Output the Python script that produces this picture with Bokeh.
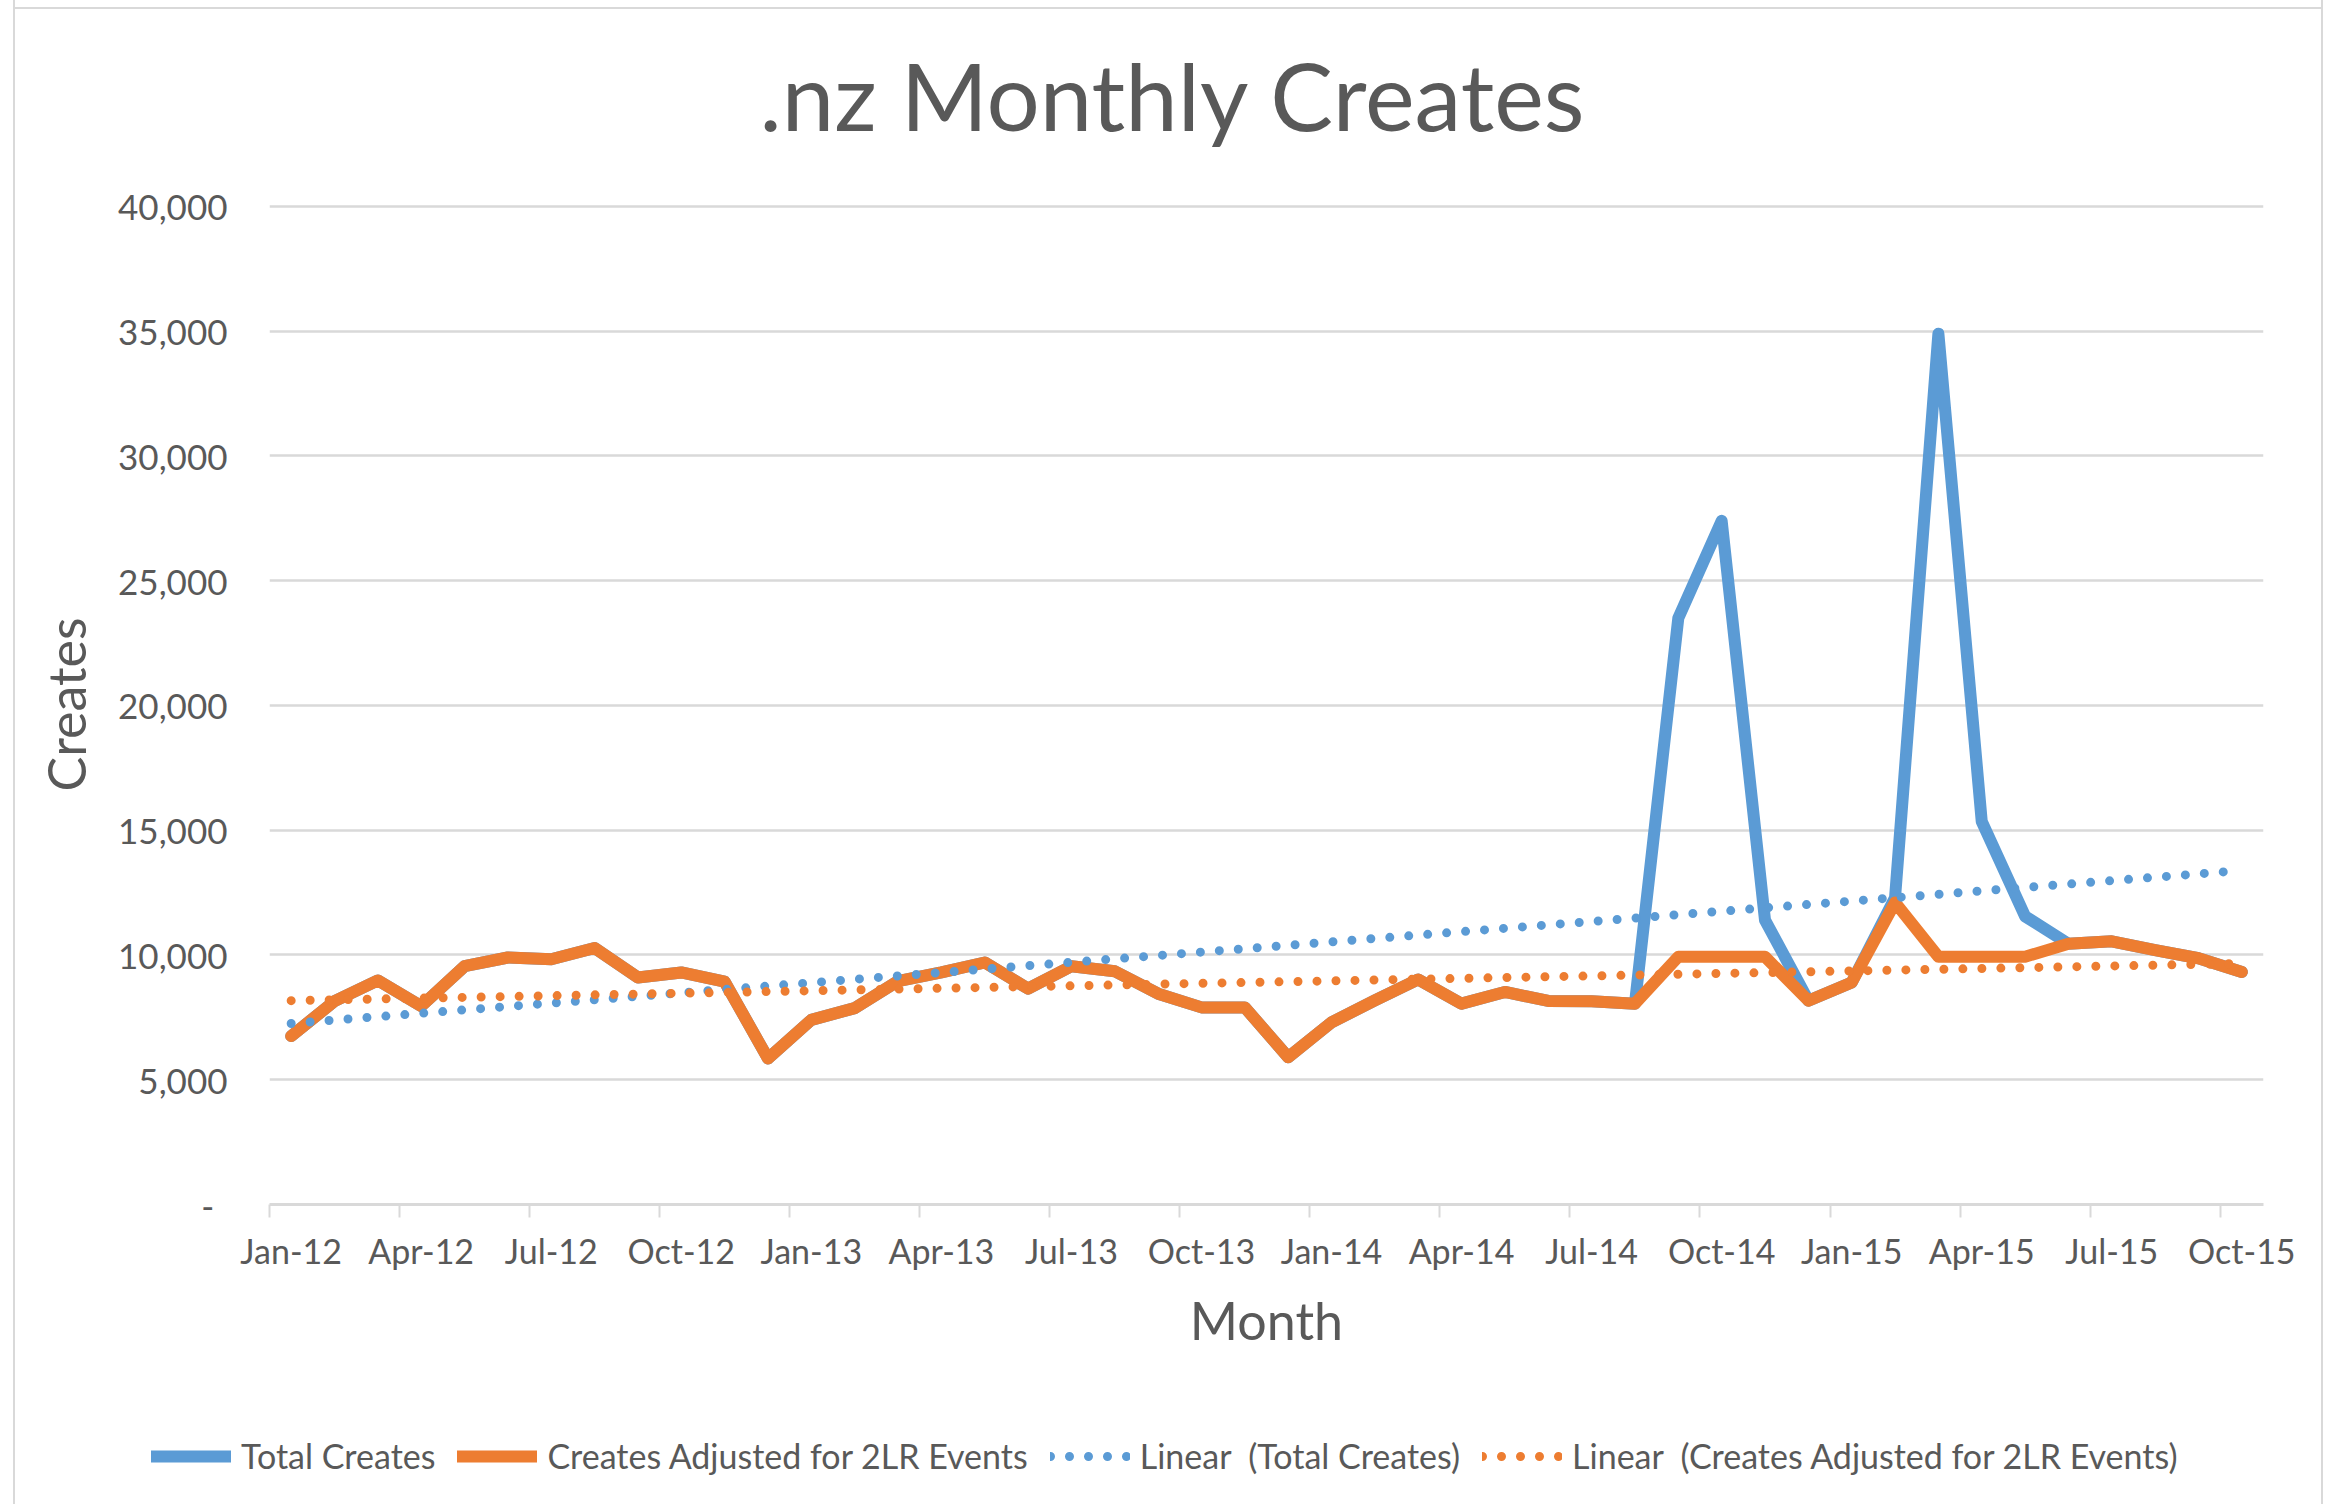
import numpy as np
from bokeh.plotting import figure
from bokeh.models import (FixedTicker, Legend, LegendItem, Range1d,
                          NumeralTickFormatter)
from bokeh.layouts import column
from bokeh.embed import file_html
from bokeh.resources import INLINE

# ---------------- data ----------------
months = ["Jan-12", "Feb-12", "Mar-12", "Apr-12", "May-12", "Jun-12", "Jul-12", "Aug-12",
          "Sep-12", "Oct-12", "Nov-12", "Dec-12", "Jan-13", "Feb-13", "Mar-13", "Apr-13",
          "May-13", "Jun-13", "Jul-13", "Aug-13", "Sep-13", "Oct-13", "Nov-13", "Dec-13",
          "Jan-14", "Feb-14", "Mar-14", "Apr-14", "May-14", "Jun-14", "Jul-14", "Aug-14",
          "Sep-14", "Oct-14", "Nov-14", "Dec-14", "Jan-15", "Feb-15", "Mar-15", "Apr-15",
          "May-15", "Jun-15", "Jul-15", "Aug-15", "Sep-15", "Oct-15"]

total_creates = [6750, 8150, 8980, 7950, 9550, 9900, 9830, 10280, 9100, 9300, 8930, 5850,
                 7400, 7870, 8950, 9300, 9700, 8650, 9550, 9350, 8450, 7900, 7900, 5900,
                 7300, 8180, 9020, 8050, 8520, 8160, 8150, 8050, 23500, 27400, 11400, 8170,
                 8900, 12300, 34900, 15350, 11550, 10450, 10550, 10200, 9870, 9320]

adjusted_creates = [6750, 8150, 8980, 7950, 9550, 9900, 9830, 10280, 9100, 9300, 8930, 5850,
                    7400, 7870, 8950, 9300, 9700, 8650, 9550, 9350, 8450, 7900, 7900, 5900,
                    7300, 8180, 9020, 8050, 8520, 8160, 8150, 8050, 9930, 9930, 9930, 8170,
                    8900, 12100, 9930, 9930, 9930, 10450, 10550, 10200, 9870, 9320]

y_ticks = [0, 5000, 10000, 15000, 20000, 25000, 30000, 35000, 40000]
label_every = 3

series_names = ["Total Creates", "Creates Adjusted for 2LR Events",
                "Linear  (Total Creates)", "Linear  (Creates Adjusted for 2LR Events)"]

BLUE = "#5B9BD5"
ORANGE = "#ED7D31"
GRID = "#D9D9D9"
TEXT = "#595959"
FONT = "Lato"

x = np.arange(len(months))


def linear_trend(values):
    coef = np.polyfit(x, np.asarray(values, dtype=float), 1)
    return np.polyval(coef, x)


p = figure(frame_width=1994, frame_height=1000, output_backend="svg", toolbar_location=None,
           x_range=Range1d(-0.5, len(months) - 0.5), y_range=Range1d(0, 40080),
           min_border_left=254, min_border_right=58, min_border_top=200,
           min_border_bottom=160)
p.frame_align = False
p.outline_line_color = None
p.background_fill_color = "white"
p.border_fill_alpha = 0

# title
p.title.text = ".nz Monthly Creates"
p.title.text_font = FONT
p.title.text_font_size = "94px"
p.title.text_font_style = "normal"
p.title.text_color = TEXT
p.title.align = "left"
p.title.vertical_align = "top"
p.title.offset = 490
p.title.standoff = 103

# grid
p.xgrid.grid_line_color = None
p.ygrid.ticker = FixedTicker(ticks=y_ticks)
p.ygrid.grid_line_color = GRID
p.ygrid.grid_line_width = 2.5

# x axis
tick_idx = list(range(0, len(months), label_every))
p.xaxis.ticker = FixedTicker(ticks=tick_idx, minor_ticks=[i - 0.5 for i in tick_idx])
p.xaxis.major_label_overrides = {i: months[i] for i in tick_idx}
p.xaxis.axis_line_color = GRID
p.xaxis.axis_line_width = 3
p.xaxis.major_tick_line_color = None
p.xaxis.major_tick_out = 0
p.xaxis.major_tick_in = 0
p.xaxis.minor_tick_line_color = GRID
p.xaxis.minor_tick_line_width = 2
p.xaxis.minor_tick_out = 13
p.xaxis.minor_tick_in = 0
p.xaxis.major_label_standoff = 12
p.xaxis.major_label_text_font = FONT
p.xaxis.major_label_text_font_size = "34px"
p.xaxis.major_label_text_color = TEXT
p.xaxis.axis_label = "Month"
p.xaxis.axis_label_text_font = FONT
p.xaxis.axis_label_text_font_size = "52px"
p.xaxis.axis_label_text_font_style = "normal"
p.xaxis.axis_label_text_color = TEXT
p.xaxis.axis_label_standoff = 15

# y axis
p.yaxis.ticker = FixedTicker(ticks=y_ticks)
p.yaxis.formatter = NumeralTickFormatter(format="0,0")
p.yaxis.major_label_overrides = {0: "-\u2009\u2009\u2009"}
p.yaxis.axis_line_color = None
p.yaxis.major_tick_line_color = None
p.yaxis.minor_tick_line_color = None
p.yaxis.major_tick_out = 0
p.yaxis.major_tick_in = 0
p.yaxis.major_label_standoff = 42
p.yaxis.major_label_text_font = FONT
p.yaxis.major_label_text_font_size = "35px"
p.yaxis.major_label_text_color = TEXT
p.yaxis.axis_label = "Creates"
p.yaxis.axis_label_text_font = FONT
p.yaxis.axis_label_text_font_size = "52px"
p.yaxis.axis_label_text_font_style = "normal"
p.yaxis.axis_label_text_color = TEXT
p.yaxis.axis_label_standoff = 18

# series
line_styles = [dict(line_color=BLUE, line_width=12, line_join="round", line_cap="round"),
               dict(line_color=ORANGE, line_width=12, line_join="round", line_cap="round"),
               dict(line_color=BLUE, line_width=9, line_dash="0 19", line_cap="round"),
               dict(line_color=ORANGE, line_width=9, line_dash="0 19", line_cap="round")]

p.line(x, total_creates, **line_styles[0])
p.line(x, adjusted_creates, **line_styles[1])
p.line(x, linear_trend(total_creates), **line_styles[2])
p.line(x, linear_trend(adjusted_creates), **line_styles[3])

# legend strip below the chart (swatch renderers carry the same line styles, no visible data)
leg = figure(width=2306, height=140, output_backend="svg", toolbar_location=None,
             x_axis_type=None, y_axis_type=None, min_border=0,
             min_border_left=0, min_border_right=0, min_border_top=0, min_border_bottom=0,
             x_range=Range1d(0, 1), y_range=Range1d(0, 1))
leg.frame_align = False
leg.outline_line_color = None
leg.background_fill_alpha = 0
leg.border_fill_alpha = 0
swatches = [leg.line([0.0], [np.nan], **st) for st in line_styles]

legend = Legend(items=[LegendItem(label=name, renderers=[r])
                       for name, r in zip(series_names, swatches)],
                orientation="horizontal", location=(136, 28))
legend.glyph_width = 80
legend.glyph_height = 20
legend.label_standoff = 10
legend.spacing = 22
legend.padding = 0
legend.margin = 0
legend.border_line_color = None
legend.background_fill_alpha = 0
legend.label_text_font = FONT
legend.label_text_font_size = "34px"
legend.label_text_color = TEXT
leg.add_layout(legend, "center")

layout = column(p, leg)
layout.styles = {"margin-left": "15px", "margin-top": "-14px",
                 "box-shadow": "-2px 0 0 0 #D9D9D9, 2px 0 0 0 #D9D9D9, "
                               "inset 0 21px 0 0 #FFFFFF, inset 0 23px 0 0 #D9D9D9"}

open("out.html", "w").write(file_html(layout, INLINE))
